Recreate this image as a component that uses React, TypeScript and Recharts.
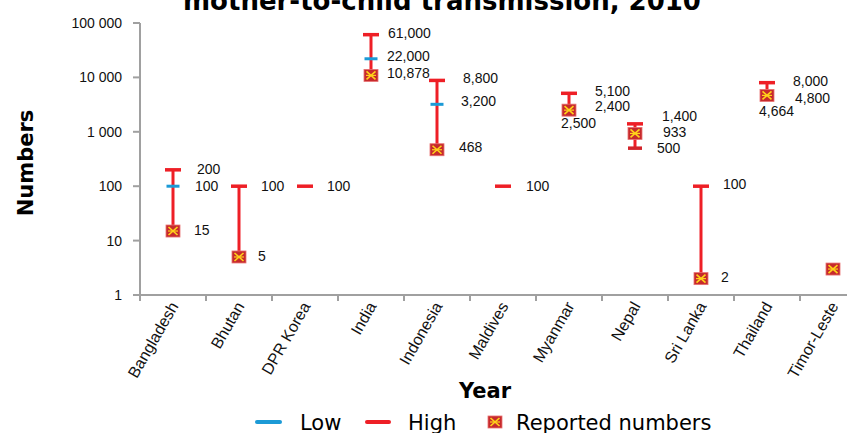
import { ComposedChart, Bar, Scatter, XAxis, YAxis } from 'recharts';

// 국가별 값
const countries = ['Bangladesh', 'Bhutan', 'DPR Korea', 'India', 'Indonesia', 'Maldives', 'Myanmar', 'Nepal', 'Sri Lanka', 'Thailand', 'Timor-Leste'];
const highValues = [200, 100, 100, 61000, 8800, 100, 5100, 1400, 100, 8000, null];
const lowValues = [100, null, null, 22000, 3200, null, 2400, 500, null, 4800, null];
const reportedValues = [15, 5, null, 10878, 468, null, 2500, 933, 2, 4664, 3];
const yTicks = [1, 10, 100, 1000, 10000, 100000];

const RED = '#ee1f26';
const BLUE = '#1c9ad6';
const GRAY = '#a0a0a0';
const NUM_FONT = '"Liberation Sans", Arial, sans-serif';
const TITLE_FONT = '"DejaVu Sans", Verdana, sans-serif';

const PLOT_W = 726;
const BAND = PLOT_W / countries.length;

// 라벨 위치 보정 (dx, dy) - 없으면 라벨 없음
const labelOffsets: Record<string, [number, number]> = {
    'Bangladesh:high': [24, -1], 'Bangladesh:low': [22, 0], 'Bangladesh:reported': [21, -1],
    'Bhutan:high': [22, 0], 'Bhutan:reported': [19, -1],
    'DPR Korea:high': [22, 0],
    'India:high': [17, -2], 'India:low': [16, -3], 'India:reported': [16, -2],
    'Indonesia:high': [26, -2], 'Indonesia:low': [24, -3], 'Indonesia:reported': [22, -3],
    'Maldives:high': [23, 0],
    'Myanmar:high': [26, -2], 'Myanmar:low': [26, -5], 'Myanmar:reported': [-8, 13],
    'Nepal:high': [27, -8], 'Nepal:low': [22, 0], 'Nepal:reported': [28, -1],
    'Sri Lanka:high': [22, -2], 'Sri Lanka:reported': [20, -2],
    'Thailand:high': [26, -2], 'Thailand:low': [28, 3], 'Thailand:reported': [-8, 16],
};

const chartData = countries.map((name, i) => {
    const mins = [lowValues[i], reportedValues[i]].filter((v): v is number => v != null);
    const lo = mins.length ? Math.min(...mins) : null;
    const hi = highValues[i];
    return {
        name,
        high: hi,
        low: lowValues[i],
        reported: reportedValues[i],
        range: hi != null && lo != null && lo < hi ? [lo, hi] : null,
    };
});

function ValueLabel({ name, field, cx, cy, value }: { name: string; field: string; cx: number; cy: number; value: number }) {
    const off = labelOffsets[`${name}:${field}`];
    if (!off) return null;
    return (
        <text x={cx + off[0]} y={cy + off[1]} dy="0.36em" fontSize={14} fontFamily={NUM_FONT} fill="#111">
            {value.toLocaleString('en-US')}
        </text>
    );
}

// 세로선 (범위)
const RangeShape = (props: any) => {
    const { x, y, width, height, payload } = props;
    if (!payload || !payload.range || !isFinite(y) || !isFinite(height)) return <g />;
    const cx = x + width / 2;
    return <line x1={cx} x2={cx} y1={y} y2={y + height} stroke={RED} strokeWidth={3} />;
};

const HighShape = (props: any) => {
    const { cx, cy, payload } = props;
    if (!payload || payload.high == null || !isFinite(cy)) return <g />;
    return (
        <g>
            <line x1={cx - 8} x2={cx + 8} y1={cy} y2={cy} stroke={RED} strokeWidth={3.5} />
            <ValueLabel name={payload.name} field="high" cx={cx} cy={cy} value={payload.high} />
        </g>
    );
};

const LowShape = (props: any) => {
    const { cx, cy, payload } = props;
    if (!payload || payload.low == null || !isFinite(cy)) return <g />;
    const belowReported = payload.reported != null && payload.low < payload.reported;
    return (
        <g>
            {belowReported
                ? <line x1={cx - 7} x2={cx + 7} y1={cy} y2={cy} stroke="#d2232a" strokeWidth={3.5} />
                : <line x1={cx - 6.5} x2={cx + 6.5} y1={cy} y2={cy} stroke={BLUE} strokeWidth={3} />}
            <ValueLabel name={payload.name} field="low" cx={cx} cy={cy} value={payload.low} />
        </g>
    );
};

function Marker({ cx, cy }: { cx: number; cy: number }) {
    return (
        <g>
            <rect x={cx - 7} y={cy - 6} width={14} height={12} fill="#c62a2c" stroke="#e87070" strokeWidth={0.8} />
            <line x1={cx - 4.5} y1={cy - 4} x2={cx + 4.5} y2={cy + 4} stroke="#ffd21a" strokeWidth={1.6} />
            <line x1={cx - 4.5} y1={cy + 4} x2={cx + 4.5} y2={cy - 4} stroke="#ffd21a" strokeWidth={1.6} />
            <line x1={cx - 5} y1={cy} x2={cx + 5} y2={cy} stroke="#ffd21a" strokeWidth={1.2} />
        </g>
    );
}

const ReportedShape = (props: any) => {
    const { cx, cy, payload } = props;
    if (!payload || payload.reported == null || !isFinite(cy)) return <g />;
    return (
        <g>
            <Marker cx={cx} cy={cy} />
            <ValueLabel name={payload.name} field="reported" cx={cx} cy={cy} value={payload.reported} />
        </g>
    );
};

// X축 눈금: 구간 경계에 눈금선, 라벨은 -60도 회전
const XTick = (props: any) => {
    const { x, y, payload } = props;
    const tx = x + 6;
    const ty = y + 11;
    return (
        <g>
            <line x1={x - BAND / 2} x2={x - BAND / 2} y1={y} y2={y + 6} stroke={GRAY} strokeWidth={2} />
            <text x={tx} y={ty} textAnchor="end" transform={`rotate(-60 ${tx} ${ty})`} fontSize={16} fontFamily={NUM_FONT} fill="#111">
                {payload.value}
            </text>
        </g>
    );
};

const formatY = (v: number) => v.toLocaleString('en-US').replace(/,/g, ' ');

function App() {
    return (
        <div style={{ position: 'fixed', left: 0, top: 0, width: 847, height: 433, overflow: 'hidden', background: '#fff' }}>
            <ComposedChart width={880} height={433} data={chartData} margin={{ top: 23, right: 14, bottom: 38, left: 0 }}>
                <XAxis
                    dataKey="name"
                    type="category"
                    height={100}
                    tick={<XTick />}
                    tickLine={false}
                    tickSize={0}
                    tickMargin={0}
                    interval={0}
                    axisLine={{ stroke: GRAY, strokeWidth: 2 }}
                />
                <YAxis
                    scale="log"
                    domain={[1, 100000]}
                    ticks={yTicks}
                    allowDataOverflow
                    width={140}
                    tickFormatter={formatY}
                    tickSize={7}
                    tickMargin={11}
                    axisLine={{ stroke: GRAY, strokeWidth: 2 }}
                    tickLine={{ stroke: GRAY, strokeWidth: 2 }}
                    tick={{ fontSize: 14, fontFamily: NUM_FONT, fill: '#111' }}
                />
                <Bar dataKey="range" barSize={6} shape={<RangeShape />} isAnimationActive={false} />
                <Scatter dataKey="high" shape={<HighShape />} isAnimationActive={false} />
                <Scatter dataKey="low" shape={<LowShape />} isAnimationActive={false} />
                <Scatter dataKey="reported" shape={<ReportedShape />} isAnimationActive={false} />
            </ComposedChart>
            {/* 제목, 축 제목, 범례 */}
            <svg width={847} height={433} style={{ position: 'absolute', left: 0, top: 0, pointerEvents: 'none' }}>
                <text x={442} y={10} textAnchor="middle" fontSize={26} fontWeight="bold" fontFamily={TITLE_FONT} fill="#000">
                    mother-to-child transmission, 2010
                </text>
                <text x={33} y={163} textAnchor="middle" transform="rotate(-90 33 163)" fontSize={21} fontWeight="bold" fontFamily={TITLE_FONT} fill="#000">
                    Numbers
                </text>
                <text x={485} y={398} textAnchor="middle" fontSize={21} fontWeight="bold" fontFamily={TITLE_FONT} fill="#000">
                    Year
                </text>
                <line x1={257} x2={280} y1={422} y2={422} stroke={BLUE} strokeWidth={4} strokeLinecap="round" />
                <text x={300} y={430} fontSize={21} fontFamily={TITLE_FONT} fill="#000">Low</text>
                <line x1={367} x2={389} y1={422} y2={422} stroke={RED} strokeWidth={4} strokeLinecap="round" />
                <text x={408} y={430} fontSize={21} fontFamily={TITLE_FONT} fill="#000">High</text>
                <Marker cx={495} cy={422} />
                <text x={516} y={430} fontSize={21} fontFamily={TITLE_FONT} fill="#000">Reported numbers</text>
            </svg>
        </div>
    );
}

export default App;
